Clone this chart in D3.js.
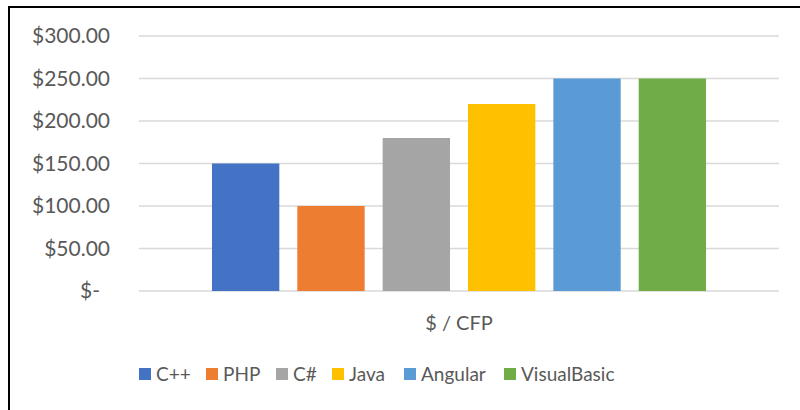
<!DOCTYPE html>
<html>
<head>
<meta charset="utf-8">
<script src="https://cdn.jsdelivr.net/npm/d3@7"></script>
<style>
  body { margin: 0; background: #fff; }
  text { font-family: Lato, "Open Sans", sans-serif; fill: #595959; }
</style>
</head>
<body>
<div class="chart"></div>
<script>
// Chart data
var languages = ["C++", "PHP", "C#", "Java", "Angular", "VisualBasic"];
var costs = [150, 100, 180, 220, 250, 250];
var colors = ["#4472C4", "#ED7D31", "#A5A5A5", "#FFC000", "#5B9BD5", "#70AD47"];
var yTicks = [0, 50, 100, 150, 200, 250, 300];
var categoryLabel = "$ / CFP";

var svgWidth = 800;
var svgHeight = 410;

var svg = d3.select(".chart")
  .append("svg")
  .attr("width", svgWidth)
  .attr("height", svgHeight);

// chart frame (only top and left edges show in the picture)
svg.append("line").attr("x1", 9).attr("x2", 800).attr("y1", 7).attr("y2", 7)
  .attr("stroke", "#000").attr("stroke-width", 2);
svg.append("line").attr("x1", 9).attr("x2", 9).attr("y1", 6).attr("y2", 410)
  .attr("stroke", "#000").attr("stroke-width", 2);

var plot = { left: 139, right: 779, top: 36, bottom: 291 };

var yScale = d3.scaleLinear().domain([0, 300]).range([plot.bottom, plot.top]);
var xScale = d3.scaleBand()
  .domain(languages)
  .range([plot.left, plot.right])
  .paddingInner(0.211)
  .paddingOuter(0.855);

function money(v) {
  return v === 0 ? "$-" : "$" + d3.format(",.2f")(v);
}

// gridlines
svg.append("g").selectAll("line")
  .data(yTicks)
  .enter()
  .append("line")
  .attr("x1", plot.left)
  .attr("x2", plot.right)
  .attr("y1", function(d) { return yScale(d); })
  .attr("y2", function(d) { return yScale(d); })
  .attr("stroke", "#d9d9d9")
  .attr("stroke-width", 1.5);

// y axis labels
var leftAxis = d3.axisLeft(yScale).tickValues(yTicks).tickFormat(money).tickSize(0).tickPadding(0);
var yAxisG = svg.append("g")
  .attr("transform", "translate(110,0)")
  .call(leftAxis);
yAxisG.select(".domain").remove();
yAxisG.selectAll("text")
  .attr("fill", "#595959")
  .style("font-family", "Lato, 'Open Sans', sans-serif")
  .style("font-size", "21px")
  .attr("x", function(d) { return d === 0 ? -10 : 0; });

// bars
svg.append("g").selectAll("rect")
  .data(costs)
  .enter()
  .append("rect")
  .attr("x", function(d, i) { return xScale(languages[i]); })
  .attr("width", xScale.bandwidth())
  .attr("y", function(d) { return yScale(d); })
  .attr("height", function(d) { return yScale(0) - yScale(d); })
  .attr("fill", function(d, i) { return colors[i]; });

// category label
svg.append("text")
  .attr("x", (plot.left + plot.right) / 2)
  .attr("y", 323)
  .attr("dy", "0.35em")
  .attr("text-anchor", "middle")
  .style("font-size", "20px")
  .text(categoryLabel);

// legend
var legendX = [139, 206, 276, 332, 404, 504];
var legend = svg.append("g").selectAll("g")
  .data(languages)
  .enter()
  .append("g")
  .attr("transform", function(d, i) { return "translate(" + legendX[i] + ",374)"; });

legend.append("rect")
  .attr("x", 0)
  .attr("y", -6)
  .attr("width", 12)
  .attr("height", 12)
  .attr("fill", function(d, i) { return colors[i]; });

legend.append("text")
  .attr("x", 17)
  .attr("y", 0)
  .attr("dy", "0.35em")
  .style("font-size", "19px")
  .text(function(d) { return d; });
</script>
</body>
</html>
